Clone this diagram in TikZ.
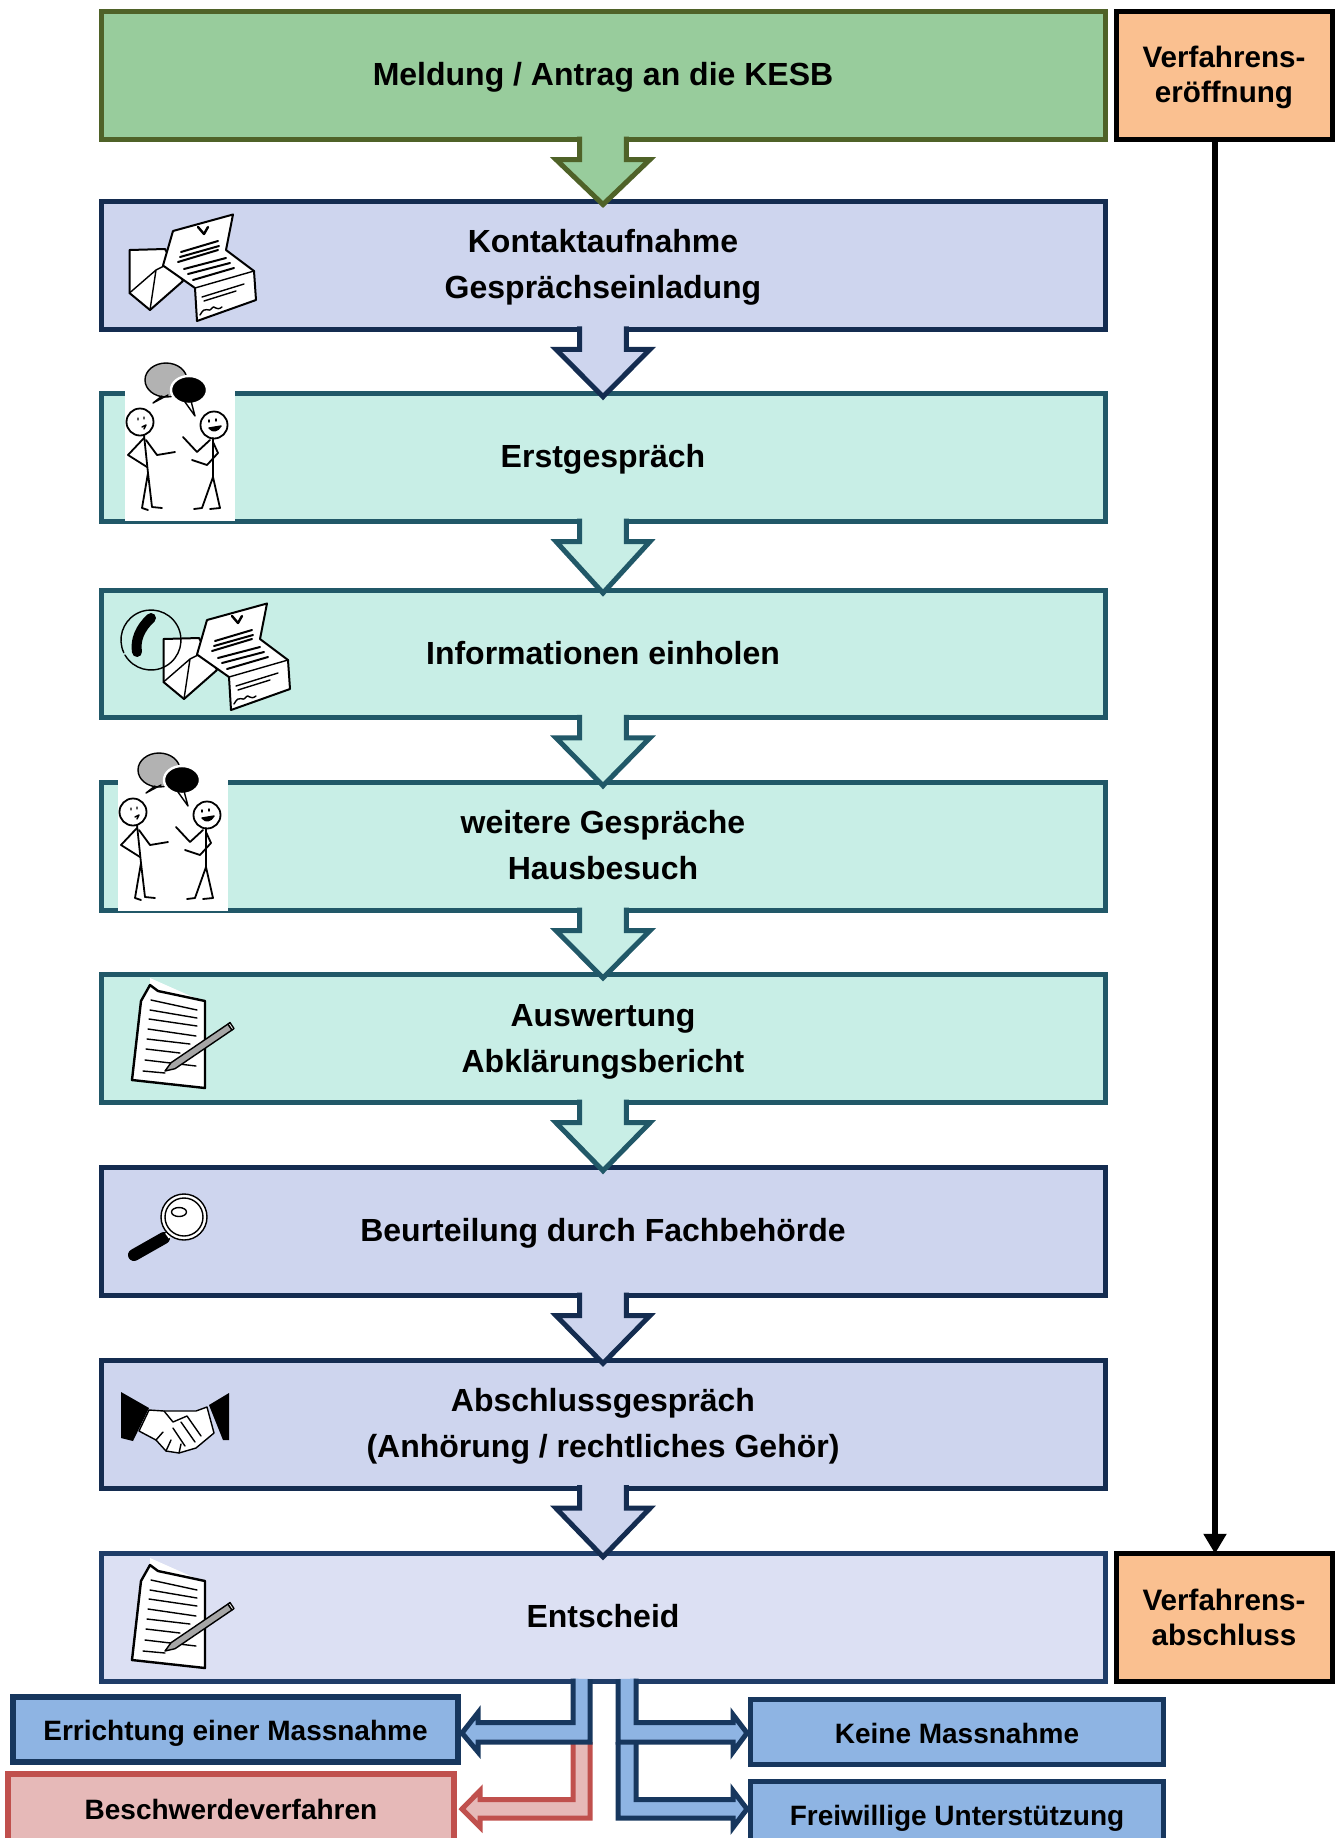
\documentclass[tikz,border=0pt]{standalone}
\usepackage{fontspec}
\setmainfont{Liberation Sans}
\usetikzlibrary{arrows.meta}

\definecolor{meldfill}{HTML}{98CC9C}
\definecolor{meldline}{HTML}{4F6228}
\definecolor{navyfill}{HTML}{CED5EE}
\definecolor{navyline}{HTML}{142C50}
\definecolor{tealfill}{HTML}{C8EEE6}
\definecolor{tealline}{HTML}{215868}
\definecolor{lastfill}{HTML}{DCE0F3}
\definecolor{lastline}{HTML}{1F3D68}
\definecolor{orangefill}{HTML}{FAC090}
\definecolor{bluefill}{HTML}{8EB4E3}
\definecolor{blueline}{HTML}{17375E}
\definecolor{redfill}{HTML}{E6B9B8}
\definecolor{redline}{HTML}{C0504D}

\newcommand{\rowstrut}{\rule[-6.4pt]{0pt}{23pt}}
\newcommand{\sidestrut}{\rule[-1.25pt]{0pt}{17.5pt}}
\newcommand{\resultstrut}{\rule[-2.5pt]{0pt}{20pt}}

\begin{document}
\begin{tikzpicture}[x=0.5pt, y=-0.5pt]
    \tikzset{rowbox/.style = {shape=rectangle, draw, line width=2.5pt, outer sep=0pt, inner sep=0pt, minimum width=502pt, minimum height=63.9pt, align=center, font=\fontsize{16}{23}\selectfont\bfseries, execute at end node={\rowstrut}}}
    \tikzset{sidebox/.style = {rowbox, draw=black, fill=orangefill, minimum width=108pt, font=\fontsize{14.8}{17.5}\selectfont\bfseries, execute at end node={\sidestrut}}}
    \tikzset{resultbox/.style = {rowbox, line width=2.75pt, minimum height=32.5pt, draw=blueline, fill=bluefill, font=\fontsize{14}{20}\selectfont\bfseries, execute at end node={\resultstrut}}}
    \tikzset{flowarrow/.style = {line width=2.5pt, miter limit=10}}
    \tikzset{bluearrow/.style = {line width=2.5pt, draw=blueline, fill=bluefill, miter limit=10}}
    \tikzset{redarrow/.style = {bluearrow, draw=redline, fill=redfill}}
    \tikzset{sketch/.style = {draw=black, line width=0.7pt, line join=round, line cap=round}}

    % icons
    \tikzset{letter/.pic = {
        \filldraw[sketch, fill=white, line width=1pt] (3.5,38) -- (39,37) -- (57,69) -- (24,98) -- (3.5,81) -- cycle;
        \draw[sketch] (3.5,81) -- (30,58) -- (24,98) (30,58) -- (42,52);
        \filldraw[sketch, fill=white, line width=1pt] (47,19) -- (107,2.5) -- (100,38) -- (128,59) -- (130,88) -- (71,109) -- (69,76) -- (37,53.5) -- cycle;
        \draw[sketch] (69,76) -- (128,59);
        \draw[sketch, line width=1pt] (55,40) -- (92,29) (54,45) -- (93,34) (52,50) -- (92,38) (58,57) -- (100,46) (62,62) -- (104,51) (67,68) -- (108,56);
        \draw[sketch] (76,85) -- (118,72) (78,89) -- (110,79);
        \draw[sketch] (74,103) .. controls (80,92) and (82,102) .. (86,96) .. controls (88,92) and (90,100) .. (96,95);
        \draw[sketch, line width=1.2pt] (72,15) -- (78,22) -- (82,15);
    }}
    \tikzset{talkers/.pic = {
        \fill[white] (0,0) rectangle (110,166);
        \filldraw[sketch, fill=black!30] (41,25) ellipse [x radius=21, y radius=17];
        \draw[sketch] (43,40) -- (28,48) -- (37,41);
        \filldraw[sketch, draw=white, line width=1.2pt, fill=black] (64,35) ellipse [x radius=18, y radius=14];
        \draw[sketch] (60,47) -- (70,61) -- (66,46);
        \draw[sketch, line width=0.9pt] (15,67) circle [radius=13.5] (89,70) circle [radius=13.5];
        \draw[sketch, line width=0.9pt] (19,80) -- (23,118) -- (17,153) -- (23,155) (23,118) -- (27,152) -- (37,153);
        \draw[sketch, line width=0.9pt] (19,83) -- (3,100) -- (22,112) (21,85) -- (32,100) -- (50,97);
        \draw[sketch, line width=0.9pt] (88,83) -- (88,122) -- (77,153) -- (69,154) (88,122) -- (95,153) -- (85,154);
        \draw[sketch, line width=0.9pt] (85,85) -- (72,97) -- (58,82) (88,87) -- (93,98) -- (82,110) -- (67,105);
        \draw[sketch] (13,63) -- (13,65) (19,62) -- (19,64) (17,72) -- (21,70) -- (19,74);
        \draw[sketch] (84,65) -- (84,67) (91,64) -- (91,66);
        \filldraw[sketch] (84,73) .. controls (88,78) and (93,76) .. (96,71) -- cycle;
    }}
    \tikzset{notepad/.pic = {
        \fill[white] (18,0) -- (63,20) -- (18,14) -- cycle;
        \filldraw[sketch, fill=white, line width=1.2pt] (18,7) -- (9,23) -- (0,102) -- (73,110) -- (73,23) -- (26,13) -- cycle;
        \foreach \a/\b/\c/\d in {19/22/65/32, 18/32/65/40, 17/41/65/48, 16/51/64/58, 15/61/58/66, 14/71/48/75, 13/82/64/88, 11/93/33/95}
            \draw[sketch] (\a,\b) -- (\c,\d);
        \filldraw[sketch, fill=black!35] (33,93) -- (39,84.7) -- (96,46) -- (100,52) -- (43,90.7) -- cycle;
        \draw[sketch, fill=white] (96,46) -- (98,44.5) -- (102,50.5) -- (100,52) -- cycle;
    }}
    \tikzset{lens/.pic = {
        \draw[line width=6pt, black, line cap=round] (8,65) -- (38,48);
        \draw[white, line width=3pt] (41,46) -- (48,41);
        \filldraw[sketch, fill=white] (58,27) circle [radius=23];
        \draw[sketch] (58,27) circle [radius=19];
        \draw[sketch] (53,22) ellipse [x radius=7.5, y radius=4.5];
    }}
    \tikzset{shake/.pic = {
        \fill[black] (0,0) -- (28,16) -- (12,49) -- (0,46) -- cycle;
        \fill[black] (108,1) -- (88,13) -- (102,48) -- (108,48) -- cycle;
        \filldraw[sketch, fill=white] (28,18) -- (18,39) -- (35,48) -- (45,59) -- (58,61) -- (75,56) -- (93,41) -- (86,15) -- (75,19) -- (43,19) -- cycle;
        \draw[sketch] (43,19) -- (52,30) -- (66,24) (66,24) -- (80,44) (60,30) -- (74,50) (52,36) -- (64,54) (35,48) -- (42,40) (45,59) -- (50,48) (58,61) -- (60,52);
    }}

    \clip (0,0) rectangle (1344,1838);

    % vertices
    \node[rowbox, draw=meldline, fill=meldfill] (meldung) at (603,75.6) {Meldung / Antrag an die KESB};
    \node[rowbox, draw=navyline, fill=navyfill] (kontakt) at (603,265.4) {\rowstrut Kontaktaufnahme\\Gesprächseinladung};
    \node[rowbox, draw=tealline, fill=tealfill] (erst) at (603,457.6) {Erstgespräch};
    \node[rowbox, draw=tealline, fill=tealfill] (info) at (603,653.9) {Informationen einholen};
    \node[rowbox, draw=tealline, fill=tealfill] (weitere) at (603,846.6) {\rowstrut weitere Gespräche\\Hausbesuch};
    \node[rowbox, draw=tealline, fill=tealfill] (bericht) at (603,1038.8) {\rowstrut Auswertung\\Abklärungsbericht};
    \node[rowbox, draw=navyline, fill=navyfill] (beurteilung) at (603,1231.6) {Beurteilung durch Fachbehörde};
    \node[rowbox, draw=navyline, fill=navyfill] (abschluss) at (603,1424.3) {\rowstrut Abschlussgespräch\\(Anhörung / rechtliches Gehör)};
    \node[rowbox, draw=lastline, fill=lastfill] (entscheid) at (603,1617.7) {Entscheid};

    \node[sidebox] (eroeffnung) at (1224,75.6) {\sidestrut Verfahrens-\\eröffnung};
    \node[sidebox] (ende) at (1224,1617.7) {\sidestrut Verfahrens-\\abschluss};

    \node[resultbox, minimum width=222.5pt] (errichtung) at (235.5,1729.5) {Errichtung einer Massnahme};
    \node[resultbox, draw=redline, fill=redfill, minimum width=223pt, minimum height=34pt] (beschwerde) at (231,1808) {Beschwerdeverfahren};
    \node[resultbox, minimum width=206.5pt] (keine) at (957,1732) {Keine Massnahme};
    \node[resultbox, minimum width=206.5pt] (freiwillig) at (957,1814) {Freiwillige Unterstützung};

    % edges
    \foreach \von/\nach/\flaeche/\linie in {meldung/kontakt/meldfill/meldline, kontakt/erst/navyfill/navyline, erst/info/tealfill/tealline, info/weitere/tealfill/tealline, weitere/bericht/tealfill/tealline, bericht/beurteilung/tealfill/tealline, beurteilung/abschluss/navyfill/navyline, abschluss/entscheid/navyfill/navyline}
        \draw[flowarrow, fill=\flaeche, draw=\linie] ([xshift=-11.7pt,yshift=1.5pt]\von.south) -- ([xshift=-11.7pt,yshift=-10pt]\von.south) -- ([xshift=-23.5pt,yshift=-10pt]\von.south) -- ([yshift=-1.5pt]\nach.north) -- ([xshift=23.5pt,yshift=-10pt]\von.south) -- ([xshift=11.7pt,yshift=-10pt]\von.south) -- ([xshift=11.7pt,yshift=1.5pt]\von.south);

    \draw[line width=3pt, -{Triangle[length=10pt,width=11pt]}] ([xshift=-4.5pt]eroeffnung.south) -- ([xshift=-4.5pt]ende.north);

    \draw[redarrow] ([xshift=-15pt,yshift=-30pt]entscheid.south) -- ++(0,58) -- ++(-93,0) -- ++(0,-9) -- ([xshift=4pt,yshift=-0.5pt]beschwerde.east) -- ++(18,18) -- ++(0,-9) -- ++(110,0) -- ++(0,-76);
    \draw[bluearrow] ([xshift=-15pt,yshift=1.5pt]entscheid.south) -- ++(0,44) -- ++(-95,0) -- ++(0,-10) -- ([xshift=2pt,yshift=-1.75pt]errichtung.east) -- ++(16,19) -- ++(0,-10) -- ++(112,0) -- ++(0,-63);
    \draw[bluearrow] ([xshift=16.5pt,yshift=-30pt]entscheid.south) -- ++(0,58) -- ++(97,0) -- ++(0,-9) -- ([xshift=-1.75pt,yshift=2.5pt]freiwillig.west) -- ++(-14,18.5) -- ++(0,-9.5) -- ++(-115,0) -- ++(0,-76);
    \draw[bluearrow] ([xshift=16.5pt,yshift=1.5pt]entscheid.south) -- ++(0,44) -- ++(97,0) -- ++(0,-8) -- ([xshift=-1.75pt,yshift=-0.5pt]keine.west) -- ++(-14,19) -- ++(0,-10) -- ++(-115,0) -- ++(0,-63);

    % pictures inside the boxes
    \pic at (126,212) {letter};
    \pic at (125,355) {talkers};
    \pic at (160,601) {letter};
    \draw[sketch] (125,655) arc [start angle=150, end angle=-205, radius=30];
    \draw[black, line width=5pt, line cap=round] (151,618) .. controls (140,628) and (135,640) .. (137,652);
    \pic at (118,745) {talkers};
    \pic at (132,978) {notepad};
    \pic at (126,1190) {lens};
    \pic at (121,1392) {shake};
    \pic at (132,1558) {notepad};
\end{tikzpicture}
\end{document}
